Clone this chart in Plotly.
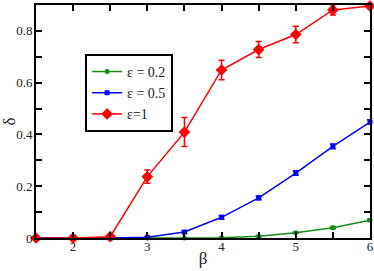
import plotly.graph_objects as go

beta = [1.5, 2, 2.5, 3, 3.5, 4, 4.5, 5, 5.5, 6]
delta_02 = [0, 0, 0, 0, 0.0, 0.001, 0.007, 0.02, 0.04, 0.069]
err_02 = [0, 0, 0, 0, 0, 0.002, 0.003, 0.003, 0.004, 0.004]
delta_05 = [0, 0, 0, 0.003, 0.023, 0.08, 0.155, 0.251, 0.354, 0.448]
err_05 = [0, 0, 0, 0.002, 0.004, 0.007, 0.007, 0.009, 0.009, 0.009]
delta_1 = [0, 0, 0.005, 0.237, 0.409, 0.649, 0.728, 0.786, 0.881, 0.896]
err_1 = [0, 0, 0.003, 0.026, 0.056, 0.038, 0.031, 0.032, 0.02, 0.01]

names = ["ε = 0.2", "ε = 0.5", "ε=1"]
colors = ["#1a8c1a", "#0000ff", "#ff0000"]
symbols = ["circle", "square", "diamond"]
sizes = [5, 5, 9]

fig = go.Figure()
for y, e, n, c, s, sz in zip([delta_02, delta_05, delta_1], [err_02, err_05, err_1],
                             names, colors, symbols, sizes):
    fig.add_trace(go.Scatter(
        x=beta, y=y, name=n, mode="lines+markers",
        line=dict(color=c, width=1.5),
        marker=dict(color=c, symbol=s, size=sz),
        error_y=dict(type="data", array=e, color=c, thickness=1.5, width=3),
        cliponaxis=False,
    ))

axis_common = dict(
    showline=True, linecolor="black", linewidth=2, mirror="allticks",
    ticks="inside", ticklen=6, tickcolor="black", tickwidth=1.5,
    showgrid=False, zeroline=False, automargin=False,
    tickfont=dict(family="Liberation Serif", size=13, color="#222"),
    minor=dict(ticks="inside", ticklen=6, tickcolor="black", tickwidth=1.5),
)

fig.update_xaxes(range=[1.5, 6], tickvals=[2, 3, 4, 5, 6],
                 minor_dtick=0.5, ticklabelstandoff=-5,
                 title=dict(text="β", font=dict(family="Liberation Serif", size=17, color="#222"), standoff=0),
                 **axis_common)
fig.update_yaxes(range=[0, 0.9], tickvals=[0, 0.2, 0.4, 0.6, 0.8],
                 ticktext=["0", "0.2", "0.4", "0.6", "0.8"], minor_dtick=0.1,
                 ticklabelstandoff=-1,
                 title=dict(text="δ", font=dict(family="Liberation Serif", size=17, color="#222"), standoff=0),
                 **axis_common)

fig.update_layout(
    width=374, height=271,
    margin=dict(l=36, r=4, t=5, b=33),
    plot_bgcolor="white", paper_bgcolor="white",
    showlegend=True,
    legend=dict(x=0.147, y=0.79, xanchor="left", yanchor="top",
                bordercolor="black", borderwidth=2, bgcolor="white",
                font=dict(family="Liberation Serif", size=14, color="#222"),
                tracegroupgap=0, itemwidth=30),
)

fig.write_html("out.html", post_script="document.body.style.margin='0';",
               config={"displayModeBar": False})
